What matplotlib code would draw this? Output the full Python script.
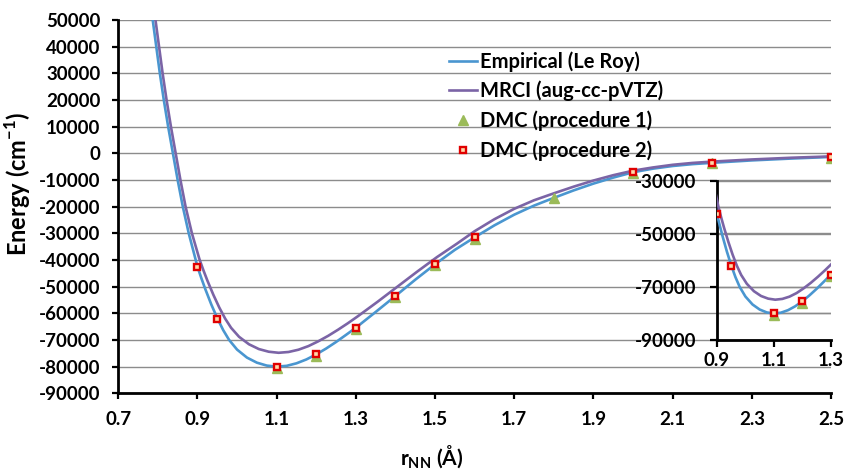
import matplotlib
matplotlib.use('Agg')
import matplotlib.pyplot as plt

plt.rcParams['font.family'] = ['Lato', 'DejaVu Sans']
plt.rcParams['font.weight'] = 'bold'
plt.rcParams['axes.unicode_minus'] = False
plt.rcParams['mathtext.fontset'] = 'custom'
plt.rcParams['mathtext.rm'] = 'Lato:bold'
plt.rcParams['mathtext.bf'] = 'Lato:bold'

# Empirical (Le Roy) curve
emp_r = [0.787, 0.796, 0.805, 0.815, 0.826, 0.838, 0.850, 0.863, 0.878, 0.900,
         0.910, 0.920, 0.935, 0.950, 0.965, 0.980, 1.000, 1.025, 1.050, 1.075,
         1.100, 1.125, 1.150, 1.175, 1.200, 1.225, 1.250, 1.275, 1.300, 1.350,
         1.400, 1.450, 1.500, 1.550, 1.600, 1.650, 1.700, 1.750, 1.800, 1.850,
         1.900, 1.950, 2.000, 2.050, 2.100, 2.150, 2.200, 2.300, 2.400, 2.500]
emp_e = [50000, 40000, 30000, 20000, 10000, 0, -10000, -20000, -30000, -42500,
         -46900, -51000, -56700, -61800, -66300, -70000, -73600, -76600, -78500, -79600,
         -80000, -79700, -78750, -77300, -75400, -73200, -70750, -68100, -65400, -59500,
         -53500, -47400, -41600, -36200, -31500, -27000, -23000, -19600, -16700, -13900,
         -11350, -9100, -7100, -5750, -4750, -4050, -3550, -2650, -1950, -1350]

# MRCI (aug-cc-pVTZ) curve
mrci_r = [0.794, 0.803, 0.812, 0.822, 0.833, 0.845, 0.857, 0.870, 0.886, 0.905,
          0.915, 0.925, 0.940, 0.955, 0.970, 0.985, 1.005, 1.030, 1.055, 1.080,
          1.105, 1.130, 1.155, 1.180, 1.205, 1.230, 1.255, 1.280, 1.305, 1.355,
          1.405, 1.455, 1.505, 1.555, 1.600, 1.650, 1.700, 1.750, 1.800, 1.850,
          1.900, 1.950, 2.000, 2.050, 2.100, 2.150, 2.200, 2.300, 2.400, 2.500]
mrci_e = [50000, 40000, 30000, 20000, 10000, 0, -10000, -20000, -30000, -39700,
          -43850, -47700, -53000, -57800, -62000, -65450, -68800, -71600, -73400, -74400,
          -74800, -74500, -73650, -72300, -70500, -68450, -66150, -63700, -61100, -55650,
          -50000, -44350, -38900, -33900, -29200, -24700, -20800, -17600, -15000, -12500,
          -10200, -8200, -6500, -5300, -4300, -3600, -3100, -2300, -1650, -1150]

# DMC points
dmc1_r = [1.1, 1.2, 1.3, 1.4, 1.5, 1.6, 1.8, 2.0, 2.2, 2.5]
dmc1_e = [-80400, -75900, -65800, -53900, -42000, -32000, -16900, -7400, -3700, -1600]
dmc2_r = [0.90, 0.95, 1.1, 1.2, 1.3, 1.4, 1.5, 1.6, 2.0, 2.2, 2.5]
dmc2_e = [-42500, -62000, -80000, -75400, -65400, -53500, -41600, -31500, -7000, -3500, -1400]

blue = '#4A96D0'
purple = '#7B64A6'
green = '#9BBB59'
red = '#E00000'
grid_col = '#8C8C8C'


def draw(ax):
    ax.plot(emp_r, emp_e, color=blue, lw=1.9, label='Empirical (Le Roy)', zorder=3)
    ax.plot(mrci_r, mrci_e, color=purple, lw=1.9, label='MRCI (aug-cc-pVTZ)', zorder=3)
    ax.plot(dmc1_r, dmc1_e, ls='none', marker='^', ms=7, color=green, mec=green,
            label='DMC (procedure 1)', zorder=4)
    ax.plot(dmc2_r, dmc2_e, ls='none', marker='s', ms=4, mfc='#FFD8A8', mec=red,
            mew=1.7, label='DMC (procedure 2)', zorder=5)


fig = plt.figure(figsize=(8.46, 4.72), dpi=100)
ax = fig.add_axes([0.1398, 0.1667, 0.8425, 0.7909])
draw(ax)
ax.set_xlim(0.7, 2.5)
ax.set_ylim(-90000, 50000)
ax.set_xticks([0.7 + 0.2 * i for i in range(10)])
ax.set_xticklabels(['%.1f' % (0.7 + 0.2 * i) for i in range(10)])
ax.set_yticks(range(-90000, 50001, 10000))
ax.grid(axis='y', color=grid_col, lw=1.0)
ax.set_axisbelow(True)
for s in ['top', 'right']:
    ax.spines[s].set_visible(False)
for s in ['left', 'bottom']:
    ax.spines[s].set_linewidth(2.0)
ax.tick_params(axis='both', direction='out', width=1.6, length=4, labelsize=13.5, pad=9)
ax.set_ylabel('Energy (cm$^{\\mathrm{-1}}$)', fontsize=17, fontweight='bold')
ax.set_xlabel('r$_{\\mathrm{NN}}$ (Å)', fontsize=15, fontweight='bold')
ax.xaxis.set_label_coords(0.44, -0.135)
ax.yaxis.set_label_coords(-0.12, 0.56)
for t in ax.get_xticklabels() + ax.get_yticklabels():
    t.set_fontweight('bold')

leg = fig.legend(loc='upper left', bbox_to_anchor=(0.531, 0.892), frameon=False,
                 prop={'weight': 'bold', 'size': 14.5}, handlelength=1.4,
                 handletextpad=0.12, labelspacing=0.46, borderpad=0, borderaxespad=0)

# inset
ins = fig.add_axes([0.8475, 0.2797, 0.1344, 0.3369])
ins.patch.set_alpha(0)
draw(ins)
ins.set_xlim(0.9, 1.3)
ins.set_ylim(-90000, -30000)
ins.set_xticks([0.9, 1.1, 1.3])
ins.set_xticklabels(['0.9', '1.1', '1.3'])
ins.set_yticks([-30000, -50000, -70000, -90000])
ins.set_yticks([-40000, -60000, -80000], minor=True)
ins.grid(axis='y', which='both', color=grid_col, lw=1.0)
ins.set_axisbelow(True)
for s in ['top', 'right']:
    ins.spines[s].set_visible(False)
for s in ['left', 'bottom']:
    ins.spines[s].set_linewidth(2.0)
ins.tick_params(axis='both', which='major', direction='out', width=1.6, length=5,
                labelsize=13.5, pad=4)
ins.tick_params(axis='y', which='major', pad=10)
ins.tick_params(axis='y', which='minor', length=0)
for t in ins.get_xticklabels() + ins.get_yticklabels():
    t.set_fontweight('bold')

fig.savefig('out.png', dpi=100)
